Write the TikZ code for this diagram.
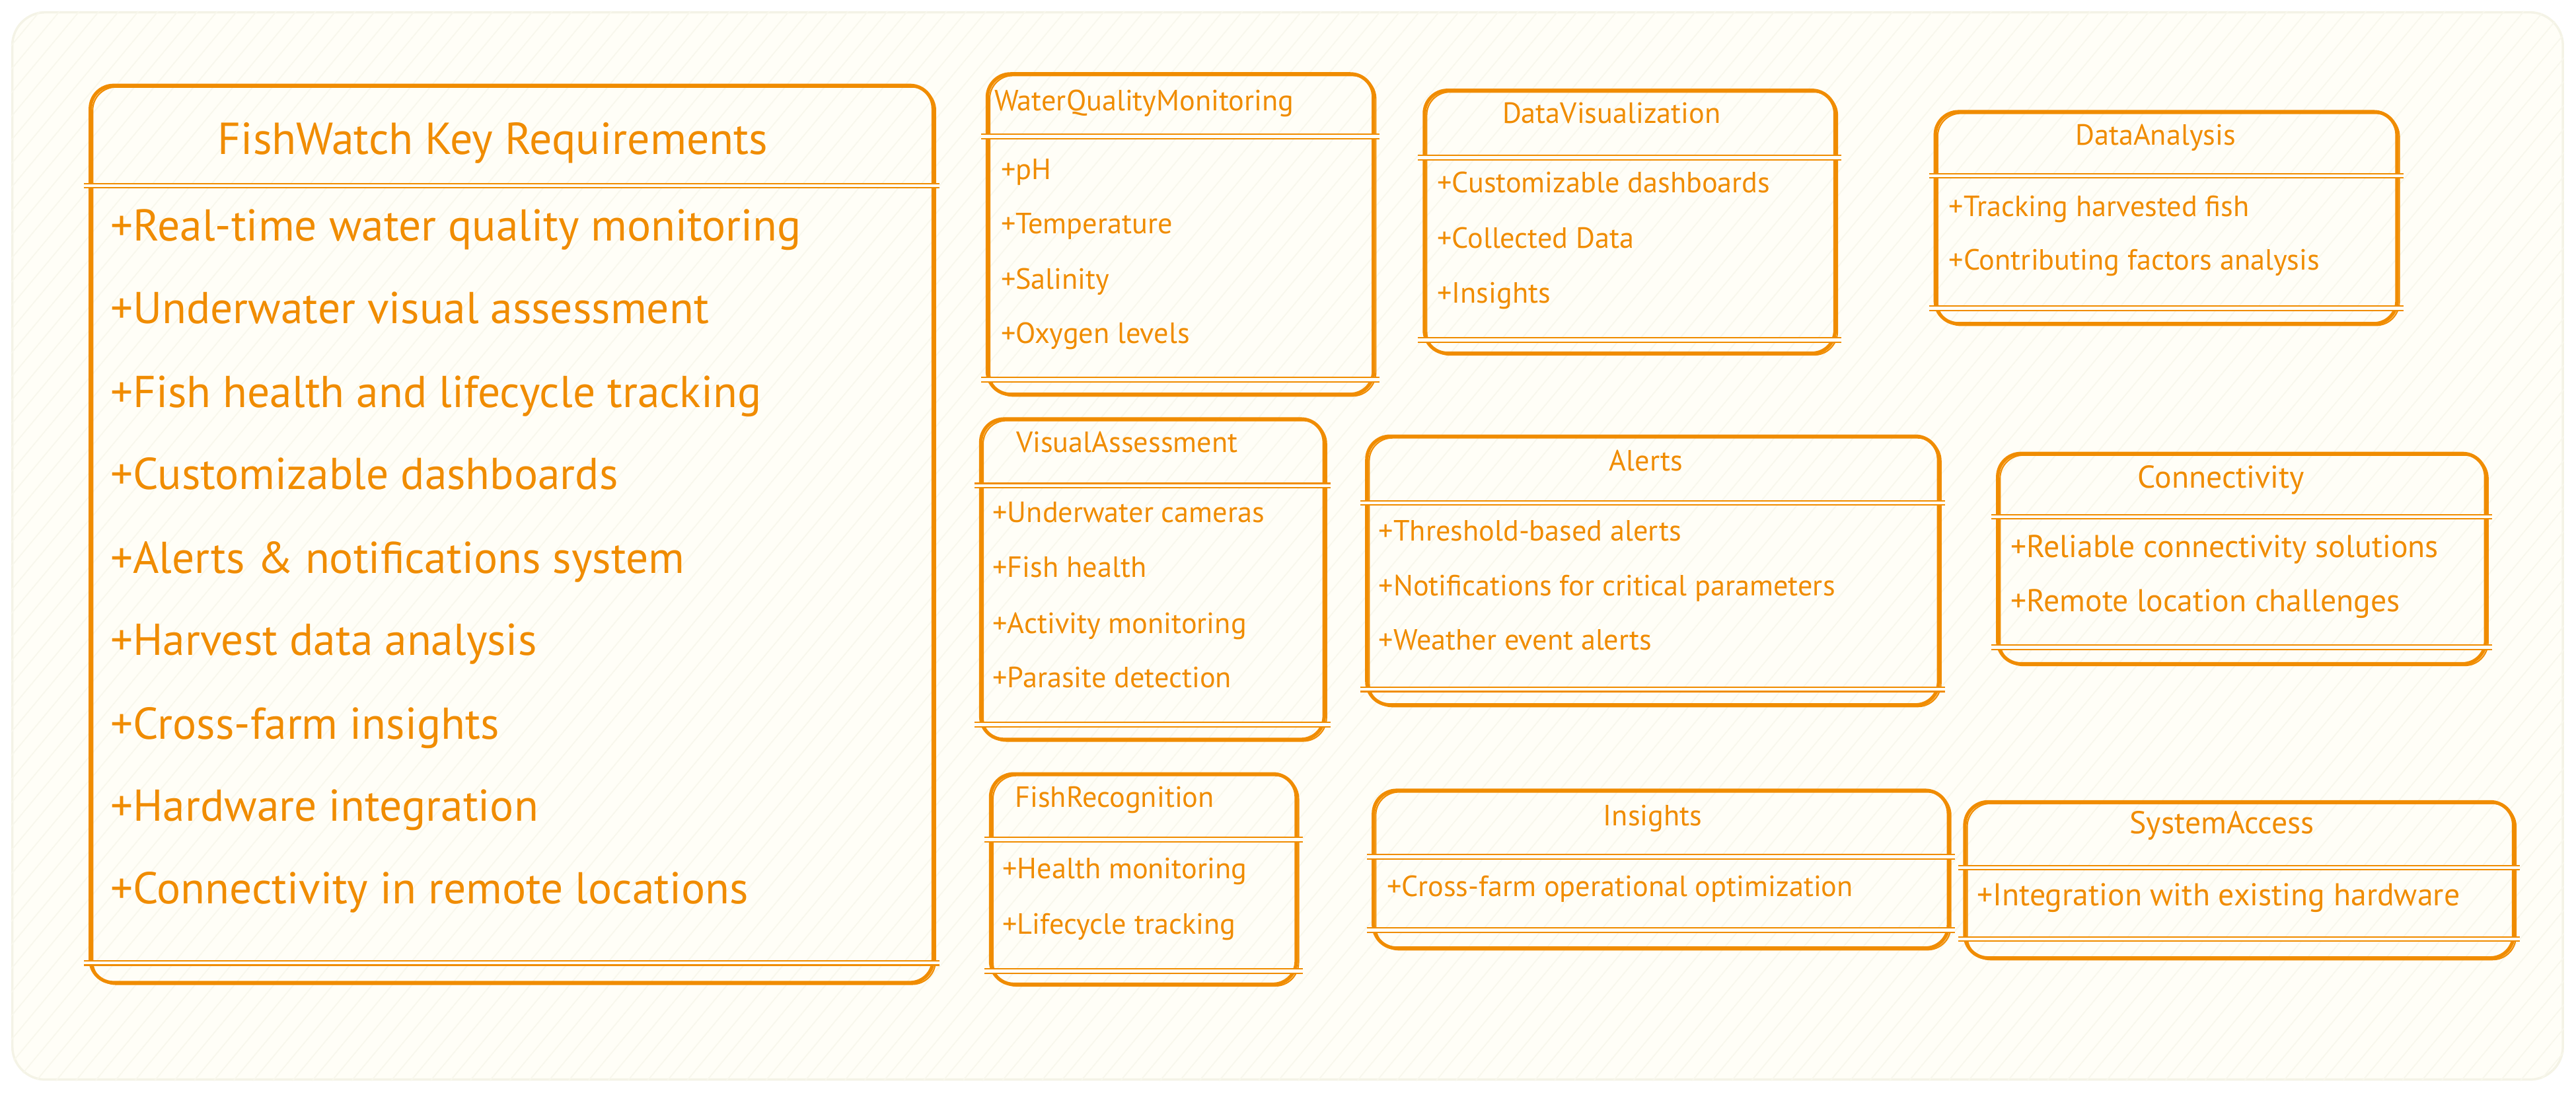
\documentclass[tikz,border=0pt]{standalone}
\usepackage{fontspec}
\setmainfont{PT Sans}
\usetikzlibrary{positioning, fit}
\definecolor{fishorange}{HTML}{F08C00}
\definecolor{paper}{HTML}{FFFEF7}
\definecolor{paperedge}{HTML}{F4F3E6}
\definecolor{hatchline}{HTML}{F8F7EC}
\tikzset{
x=0.02487cm, y=-0.02487cm, % one unit per pixel of the 1568 wide sketch
canvas/.style={fill=paper, draw=paperedge, line width=1pt, rounded corners=5mm, inner sep=0pt},
hatch/.style={draw=hatchline, line width=0.5pt},
classbox/.style={draw=fishorange, line width=1.5pt, rounded corners=3.5mm, inner sep=0pt,
  preaction={draw=fishorange, line width=0.6pt, transform canvas={xshift=0.35mm, yshift=-0.25mm}}},
divider/.style={draw=fishorange, line width=0.6pt, double=paper, double distance=1.3pt},
bigtitle/.style={text=fishorange, inner sep=0pt, text height=1ex, text depth=0pt, yshift=-1.3mm, font=\fontsize{19.3}{22}\selectfont},
bigitem/.style={bigtitle, anchor=west, font=\fontsize{19.2}{22}\selectfont},
classtitle/.style={text=fishorange, inner sep=0pt, text height=1ex, text depth=0pt, yshift=-0.7mm, font=\fontsize{12.6}{15}\selectfont},
classitem/.style={classtitle, anchor=west},
wideitem/.style={classitem, font=\fontsize{13.6}{16}\selectfont},
}
\begin{document}
\begin{tikzpicture}
\useasboundingbox (0,0) rectangle (1568,665);
\node[canvas, fit={(7.5,7.5) (1560,657)}] (sheet) {};
\begin{scope}
  \clip[rounded corners=5mm] (sheet.north west) rectangle (sheet.south east);
  \foreach \x in {-560,-548,...,1570}
    \draw[hatch] (\x,665) -- ++(554,-665);
\end{scope}

% main requirements list
\node[classbox, fit={(55,52) (568,598)}] (req) {};
\draw[divider] ([xshift=-2]req.west |- 0,113) -- ([xshift=2]req.east |- 0,113);
\draw[divider] ([xshift=-2]req.west |- 0,586) -- ([xshift=2]req.east |- 0,586);
\node[bigtitle] (req-title) at (300,85) {FishWatch Key Requirements};
\node[bigitem] (req-1) at (67,138) {+Real-time water quality monitoring};
\node[bigitem] (req-2) at (67,188) {+Underwater visual assessment};
\node[bigitem] (req-3) at (67,239) {+Fish health and lifecycle tracking};
\node[bigitem] (req-4) at (67,289) {+Customizable dashboards};
\node[bigitem] (req-5) at (67,340) {+Alerts \& notifications system};
\node[bigitem] (req-6) at (67,390) {+Harvest data analysis};
\node[bigitem] (req-7) at (67,441) {+Cross-farm insights};
\node[bigitem] (req-8) at (67,491) {+Hardware integration};
\node[bigitem] (req-9) at (67,541) {+Connectivity in remote locations};

% water quality
\node[classbox, fit={(601,45) (836,240)}] (wqm) {};
\draw[divider] ([xshift=-2]wqm.west |- 0,83) -- ([xshift=2]wqm.east |- 0,83);
\draw[divider] ([xshift=-2]wqm.west |- 0,231) -- ([xshift=2]wqm.east |- 0,231);
\node[classitem] (wqm-title) at (605,61) {WaterQualityMonitoring};
\node[classitem] (wqm-1) at (609,103) {+pH};
\node[classitem] (wqm-2) at (609,136) {+Temperature};
\node[classitem] (wqm-3) at (609,169.5) {+Salinity};
\node[classitem] (wqm-4) at (609,202.5) {+Oxygen levels};

% data visualization
\node[classbox, fit={(867,55) (1117,215)}] (dataviz) {};
\draw[divider] ([xshift=-2]dataviz.west |- 0,96) -- ([xshift=2]dataviz.east |- 0,96);
\draw[divider] ([xshift=-2]dataviz.west |- 0,207) -- ([xshift=2]dataviz.east |- 0,207);
\node[classtitle] (dataviz-title) at (981,68.5) {DataVisualization};
\node[classitem] (dataviz-1) at (874.5,111) {+Customizable dashboards};
\node[classitem] (dataviz-2) at (874.5,144.5) {+Collected Data};
\node[classitem] (dataviz-3) at (874.5,178) {+Insights};

% data analysis
\node[classbox, fit={(1178,68) (1459,197)}] (analysis) {};
\draw[divider] ([xshift=-2]analysis.west |- 0,107) -- ([xshift=2]analysis.east |- 0,107);
\draw[divider] ([xshift=-2]analysis.west |- 0,187.5) -- ([xshift=2]analysis.east |- 0,187.5);
\node[classtitle] (analysis-title) at (1312,82) {DataAnalysis};
\node[classitem] (analysis-1) at (1186,125.5) {+Tracking harvested fish};
\node[classitem] (analysis-2) at (1186,158) {+Contributing factors analysis};

% visual assessment
\node[classbox, fit={(597,255) (806,450)}] (visual) {};
\draw[divider] ([xshift=-2]visual.west |- 0,295.5) -- ([xshift=2]visual.east |- 0,295.5);
\draw[divider] ([xshift=-2]visual.west |- 0,441) -- ([xshift=2]visual.east |- 0,441);
\node[classtitle] (visual-title) at (686,269) {VisualAssessment};
\node[classitem] (visual-1) at (604,311.5) {+Underwater cameras};
\node[classitem] (visual-2) at (604,345) {+Fish health};
\node[classitem] (visual-3) at (604,379) {+Activity monitoring};
\node[classitem] (visual-4) at (604,412) {+Parasite detection};

% alerts
\node[classbox, fit={(832,265.5) (1180,429)}] (alerts) {};
\draw[divider] ([xshift=-2]alerts.west |- 0,306) -- ([xshift=2]alerts.east |- 0,306);
\draw[divider] ([xshift=-2]alerts.west |- 0,419.5) -- ([xshift=2]alerts.east |- 0,419.5);
\node[classtitle] (alerts-title) at (1002,280) {Alerts};
\node[classitem] (alerts-1) at (839,323) {+Threshold-based alerts};
\node[classitem] (alerts-2) at (839,356) {+Notifications for critical parameters};
\node[classitem] (alerts-3) at (839,389) {+Weather event alerts};

% connectivity
\node[classbox, fit={(1216,276) (1513,404)}] (connect) {};
\draw[divider] ([xshift=-2]connect.west |- 0,314.5) -- ([xshift=2]connect.east |- 0,314.5);
\draw[divider] ([xshift=-2]connect.west |- 0,394) -- ([xshift=2]connect.east |- 0,394);
\node[classtitle, font=\fontsize{13.6}{16}\selectfont] (connect-title) at (1352,290.5) {Connectivity};
\node[wideitem] (connect-1) at (1223.5,333) {+Reliable connectivity solutions};
\node[wideitem] (connect-2) at (1223.5,366) {+Remote location challenges};

% fish recognition
\node[classbox, fit={(603,471) (789,599)}] (recog) {};
\draw[divider] ([xshift=-2]recog.west |- 0,511) -- ([xshift=2]recog.east |- 0,511);
\draw[divider] ([xshift=-2]recog.west |- 0,591) -- ([xshift=2]recog.east |- 0,591);
\node[classtitle] (recog-title) at (678.5,485) {FishRecognition};
\node[classitem] (recog-1) at (610,528.5) {+Health monitoring};
\node[classitem] (recog-2) at (610,562) {+Lifecycle tracking};

% insights
\node[classbox, fit={(836,481) (1186,577)}] (insights) {};
\draw[divider] ([xshift=-2]insights.west |- 0,521.5) -- ([xshift=2]insights.east |- 0,521.5);
\draw[divider] ([xshift=-2]insights.west |- 0,566) -- ([xshift=2]insights.east |- 0,566);
\node[classtitle] (insights-title) at (1006,496) {Insights};
\node[classitem] (insights-1) at (844,539) {+Cross-farm operational optimization};

% system access
\node[classbox, fit={(1196,488) (1530,583)}] (access) {};
\draw[divider] ([xshift=-2]access.west |- 0,528) -- ([xshift=2]access.east |- 0,528);
\draw[divider] ([xshift=-2]access.west |- 0,571.5) -- ([xshift=2]access.east |- 0,571.5);
\node[classtitle, font=\fontsize{13.6}{16}\selectfont] (access-title) at (1352.5,501) {SystemAccess};
\node[wideitem] (access-1) at (1203,545) {+Integration with existing hardware};
\end{tikzpicture}
\end{document}
